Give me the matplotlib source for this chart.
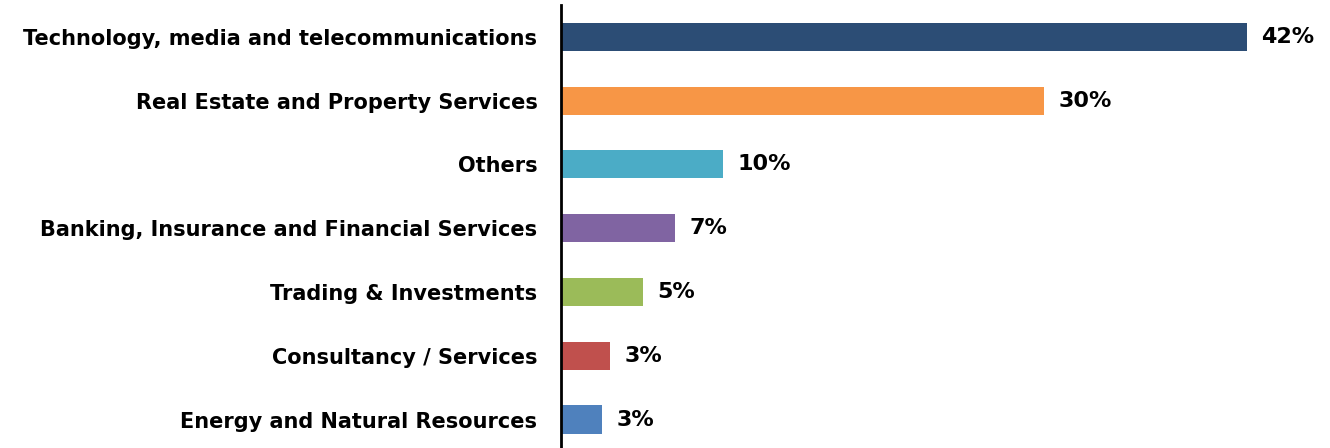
import matplotlib.pyplot as plt

# sectors (top to bottom) and shares
sectors = ["Technology, media and telecommunications",
           "Real Estate and Property Services",
           "Others",
           "Banking, Insurance and Financial Services",
           "Trading & Investments",
           "Consultancy / Services",
           "Energy and Natural Resources"]
shares = [42, 29.6, 9.9, 7, 5, 3, 2.5]
share_labels = ["42%", "30%", "10%", "7%", "5%", "3%", "3%"]
colors = ["#2C4D75", "#F79646", "#4BACC6", "#8064A2", "#9BBB59", "#C0504D", "#4F81BD"]

plt.rcParams['font.family'] = ['DejaVu Sans']

fig = plt.figure(figsize=(13.3, 4.48), dpi=100)
ax = fig.add_axes([0.4218, -0.0076, 0.577, 0.9964])

y = list(range(len(sectors)))
ax.barh(y, shares, height=0.44, color=colors)
for yi, v, lab in zip(y, shares, share_labels):
    ax.text(v + 0.9, yi, lab, va='center', ha='left', fontsize=16, fontweight='bold')

ax.set_ylim(len(sectors) - 0.5, -0.5)
ax.set_xlim(0, 47)
ax.set_yticks(y)
ax.set_yticklabels(sectors, fontsize=15, fontweight='bold')
ax.tick_params(axis='y', length=0, pad=17)
ax.set_xticks([])
for s in ['top', 'right', 'bottom']:
    ax.spines[s].set_visible(False)
ax.spines['left'].set_linewidth(2)
ax.spines['left'].set_color('black')

fig.savefig("out.png", dpi=100)
